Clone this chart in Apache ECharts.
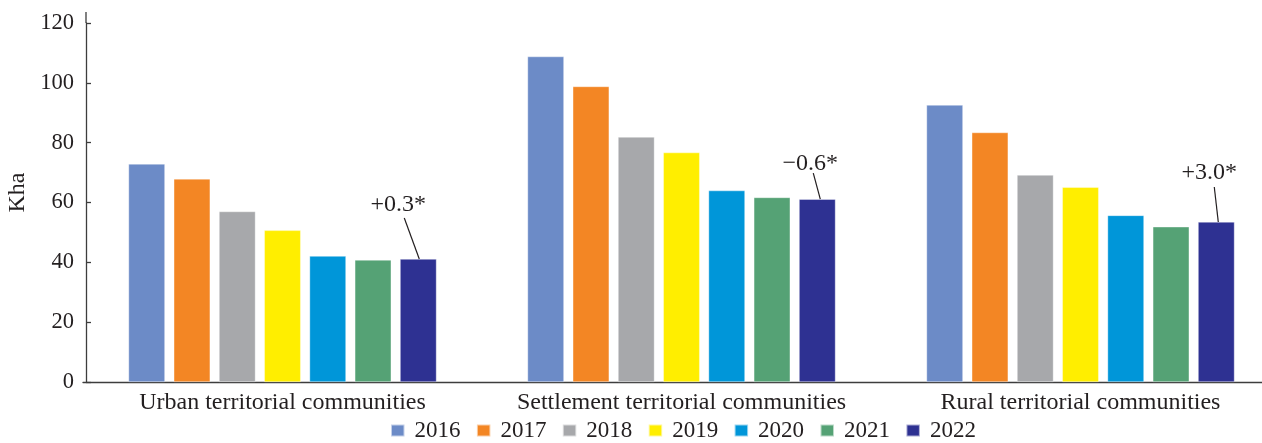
<!DOCTYPE html>
<html>
<head>
<meta charset="utf-8">
<script src="https://cdn.jsdelivr.net/npm/echarts@6/dist/echarts.min.js"></script>
<style>
  html, body { margin: 0; padding: 0; background: #fff; }
  #chart { width: 1262px; height: 443px; }
</style>
</head>
<body>
<div id="chart"></div>
<script>
// Land area by type of territorial community, thousand hectares
const categories = ['Urban territorial communities', 'Settlement territorial communities', 'Rural territorial communities'];
const years = ['2016', '2017', '2018', '2019', '2020', '2021', '2022'];
const values2016 = [72.9, 108.8, 92.6];
const values2017 = [67.9, 98.8, 83.4];
const values2018 = [57.0, 81.9, 69.2];
const values2019 = [50.7, 76.7, 65.1];
const values2020 = [42.1, 64.0, 55.7];
const values2021 = [40.8, 61.7, 51.9];
const values2022 = [41.1, 61.1, 53.5];
const changeLabels = ['+0.3*', '\u22120.6*', '+3.0*'];
const yTicks = [0, 20, 40, 60, 80, 100, 120];

const seriesValues = [values2016, values2017, values2018, values2019, values2020, values2021, values2022];
const colors = ['#6c8bc7', '#f38624', '#a7a8ab', '#ffee00', '#0096d9', '#55a275', '#2e3192'];
const FONT = 'Liberation Serif';
const INK = '#231f20';
const AXIS = '#3d3d3d';

// bar geometry: each group holds one bar per year
const BAR_W = 36.5;
const GAP_RATIO = 0.24;
// horizontal offset of the last (2022) bar from its category centre
const lastBarOffset = ((years.length - 1) / 2) * BAR_W * (1 + GAP_RATIO);

// callout placement relative to the top centre of the 2022 bar:
// text centre, leader start, leader end
const callout = [
  { text: [-20, -54], from: [-14, -41], to: [1, 0] },
  { text: [-7, -36], from: [-4, -26], to: [3, 0] },
  { text: [-7, -49], from: [-2, -35], to: [2, 0] }
];

const barSeries = years.map((y, i) => ({
  name: y,
  type: 'bar',
  data: seriesValues[i],
  barWidth: BAR_W,
  barGap: (GAP_RATIO * 100) + '%',
  itemStyle: { color: colors[i], borderColor: 'rgba(255,255,255,0.6)', borderWidth: 0.6 },
  emphasis: { disabled: true }
}));

// change callouts above the 2022 bars
const calloutSeries = {
  name: 'change',
  type: 'custom',
  silent: true,
  z: 10,
  data: values2022.map((v, i) => [i, v]),
  encode: { x: 0, y: 1 },
  renderItem: (params, api) => {
    const i = params.dataIndex;
    const p = api.coord([api.value(0), api.value(1)]);
    const cx = p[0] + lastBarOffset;
    const cy = p[1];
    const c = callout[i];
    return {
      type: 'group',
      children: [
        {
          type: 'line',
          shape: { x1: cx + c.from[0], y1: cy + c.from[1], x2: cx + c.to[0], y2: cy + c.to[1] },
          style: { stroke: INK, lineWidth: 1.2 }
        },
        {
          type: 'text',
          style: {
            text: changeLabels[i],
            x: cx + c.text[0],
            y: cy + c.text[1],
            align: 'center',
            verticalAlign: 'middle',
            fontFamily: FONT,
            fontSize: 24,
            fill: INK
          }
        }
      ]
    };
  }
};

const chart = echarts.init(document.getElementById('chart'));
chart.setOption({
  animation: false,
  color: colors,
  textStyle: { fontFamily: FONT, color: INK },
  grid: { left: 83, top: 23, width: 1197, height: 359, containLabel: false, outerBoundsMode: 'none' },
  legend: {
    data: years,
    left: 390,
    top: 419,
    padding: 0,
    icon: 'rect',
    itemWidth: 13.5,
    itemHeight: 12,
    itemGap: 15.4,
    textStyle: { fontFamily: FONT, fontSize: 23, color: INK, padding: [0, 0, 0, 5] }
  },
  xAxis: {
    type: 'category',
    data: categories,
    axisLine: { lineStyle: { color: AXIS, width: 1.3 } },
    axisTick: { show: false },
    axisLabel: { interval: 0, fontFamily: FONT, fontSize: 24, color: INK, margin: 9 }
  },
  yAxis: {
    type: 'value',
    min: yTicks[0],
    max: yTicks[yTicks.length - 1],
    interval: 20,
    offset: -3,
    name: 'Kha',
    nameLocation: 'middle',
    nameGap: 52,
    nameTextStyle: { fontFamily: FONT, fontSize: 24, color: INK, padding: [0, 0, 0, 20] },
    axisLine: { show: true, lineStyle: { color: AXIS, width: 1.3 } },
    axisTick: { show: true, inside: true, length: 5, lineStyle: { color: AXIS, width: 1.3 } },
    axisLabel: { fontFamily: FONT, fontSize: 22.5, color: INK, margin: 12 },
    splitLine: { show: false }
  },
  series: barSeries.concat([calloutSeries])
});

// the vertical axis line runs a little above the top tick
const axisTopY = chart.convertToPixel({ yAxisIndex: 0 }, yTicks[yTicks.length - 1]);
chart.setOption({
  graphic: [{
    type: 'line',
    shape: { x1: 86, y1: axisTopY - 11, x2: 86, y2: axisTopY },
    style: { stroke: AXIS, lineWidth: 1.3 },
    silent: true
  }]
});
</script>
</body>
</html>
